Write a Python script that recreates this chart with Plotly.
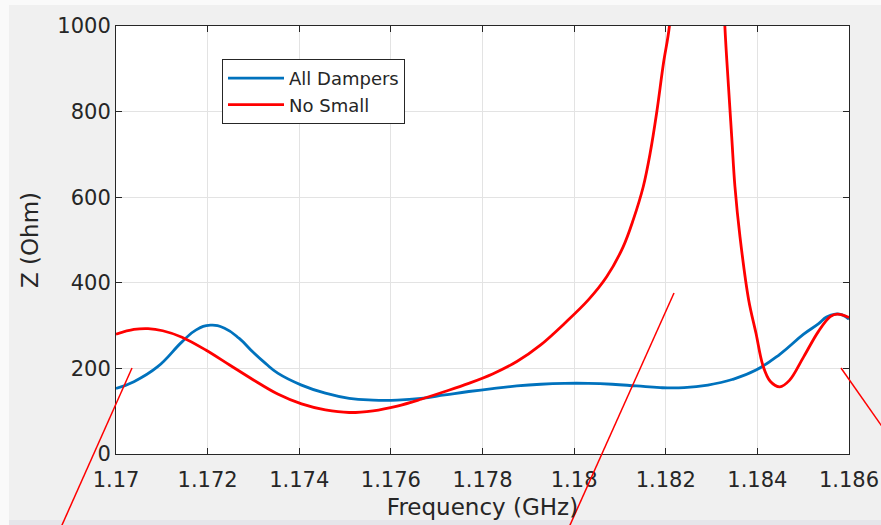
import plotly.graph_objects as go

# Impedance sweep around the 1.18 GHz mode
freq_all = [1.17000, 1.17039, 1.17091, 1.17144, 1.17175, 1.17206, 1.17237, 1.17269,
            1.17300, 1.17327, 1.17353, 1.17405, 1.17457, 1.17509, 1.17561, 1.17614,
            1.17666, 1.17718, 1.17770, 1.17822, 1.17875, 1.17927, 1.17979, 1.18031,
            1.18083, 1.18136, 1.18188, 1.18240, 1.18292, 1.18345, 1.18397, 1.18449,
            1.18501, 1.18533, 1.18551, 1.18570, 1.18585, 1.18600]
z_all = [153, 169, 204, 262, 290, 301, 294, 270,
         237, 211, 189, 161, 142, 130, 126, 126,
         130, 138, 146, 153, 159, 163, 165, 165,
         163, 159, 155, 155, 161, 174, 196, 233,
         280, 304, 320, 327, 325, 315]

freq_nosmall = [1.17000, 1.17039, 1.17070, 1.17102, 1.17144, 1.17196, 1.17248, 1.17300,
                1.17353, 1.17405, 1.17457, 1.17509, 1.17561, 1.17614, 1.17666, 1.17718,
                1.17770, 1.17822, 1.17875, 1.17927, 1.17979, 1.18031, 1.18071, 1.18107,
                1.18129, 1.18151, 1.18166, 1.18180, 1.18195, 1.18208, 1.18225, 1.18250,
                1.18270, 1.18290, 1.18310, 1.18329, 1.18337, 1.18344, 1.18351, 1.18362,
                1.18381, 1.18397, 1.18412, 1.18428, 1.18449, 1.18470, 1.18501, 1.18533,
                1.18559, 1.18575, 1.18600]
z_nosmall = [280, 291, 293, 288, 273, 243, 208, 173,
             140, 117, 103, 97, 101, 112, 128, 146,
             165, 187, 216, 255, 305, 360, 414, 484,
             547, 625, 703, 796, 913, 1000, 1250, 1900,
             2600, 2300, 1500, 1000, 858, 741, 625, 508,
             360, 282, 207, 170, 157, 172, 227, 286,
             321, 327, 319]

x_ticks = [1.170, 1.172, 1.174, 1.176, 1.178, 1.180, 1.182, 1.184, 1.186]
x_tick_text = ["1.17", "1.172", "1.174", "1.176", "1.178", "1.18", "1.182", "1.184", "1.186"]
y_ticks = [0, 200, 400, 600, 800, 1000]

W, H = 881, 525
ML, MR, MT, MB = 116, 32, 26, 71
PW, PH = W - ML - MR, H - MT - MB


def paper(px, py):
    """Pixel position on the canvas -> paper coordinates."""
    return (px - ML) / PW, (H - MB - py) / PH


INK = "#262626"
GRID = "#e3e3e3"

fig = go.Figure()
fig.add_trace(go.Scatter(x=freq_all, y=z_all, name="All Dampers", mode="lines",
                         line=dict(color="#0072BD", width=2.8, shape="spline", smoothing=1.3)))
fig.add_trace(go.Scatter(x=freq_nosmall, y=z_nosmall, name="No Small", mode="lines",
                         line=dict(color="#FF0000", width=2.8, shape="spline", smoothing=1.0)))

shapes = []
# light borders of the window canvas
for (x0, y0, x1, y1, col) in [(0, 0, 9, H, "#fafafa"), (0, 0, W, 5, "#fafafa"),
                               (9, 520, W, H, "#e6e6ea")]:
    a0, b0 = paper(x0, y0)
    a1, b1 = paper(x1, y1)
    shapes.append(dict(type="rect", xref="paper", yref="paper", x0=a0, y0=b0, x1=a1, y1=b1,
                       fillcolor=col, line=dict(width=0), layer="below"))
# thin red guide strokes drawn across the figure
for (x0, y0, x1, y1) in [(58, 534, 132, 368), (566, 534, 674, 293), (841, 368, 895, 445)]:
    a0, b0 = paper(x0, y0)
    a1, b1 = paper(x1, y1)
    shapes.append(dict(type="line", xref="paper", yref="paper", x0=a0, y0=b0, x1=a1, y1=b1,
                       line=dict(color="#ff0000", width=1.5), layer="above"))

lx, ly = paper(222, 59)

fig.update_layout(
    width=W, height=H, autosize=False,
    margin=dict(l=ML, r=MR, t=MT, b=MB, autoexpand=False),
    paper_bgcolor="#f0f0f0", plot_bgcolor="white",
    font=dict(family="DejaVu Sans", color=INK, size=21),
    showlegend=True,
    legend=dict(x=lx, y=ly, xanchor="left", yanchor="top",
                bgcolor="white", bordercolor=INK, borderwidth=1,
                font=dict(size=18, color=INK), itemwidth=56,
                tracegroupgap=0),
    shapes=shapes,
)
fig.update_xaxes(range=[1.17, 1.186], tickvals=x_ticks, ticktext=x_tick_text,
                 automargin=False,
                 showgrid=True, gridcolor=GRID, gridwidth=1,
                 showline=True, linecolor=INK, linewidth=1, mirror="ticks",
                 ticks="inside", ticklen=6, tickcolor=INK, zeroline=False,
                 tickfont=dict(size=21, color=INK), ticklabelstandoff=7,
                 title=dict(text="Frequency (GHz)", font=dict(size=23, color=INK), standoff=7))
fig.update_yaxes(range=[0, 1000], tickvals=y_ticks,
                 automargin=False,
                 showgrid=True, gridcolor=GRID, gridwidth=1,
                 showline=True, linecolor=INK, linewidth=1, mirror="ticks",
                 ticks="inside", ticklen=6, tickcolor=INK, zeroline=False,
                 tickfont=dict(size=21, color=INK),
                 title=dict(text="Z (Ohm)", font=dict(size=23, color=INK), standoff=12))

fig.write_html("out.html")
